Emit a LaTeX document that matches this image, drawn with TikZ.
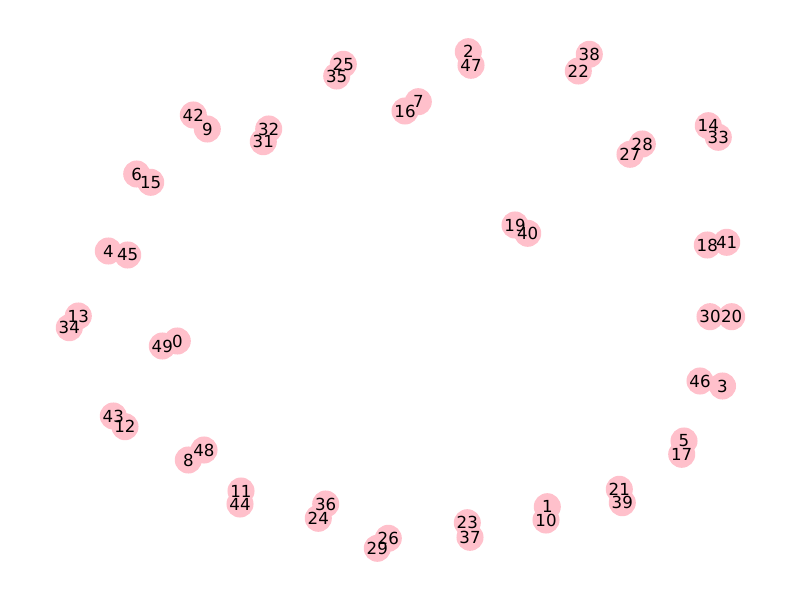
\documentclass[tikz,border=0pt]{standalone}
\usepackage{fontspec}
\setmainfont{DejaVu Sans}
\definecolor{nodepink}{HTML}{FFC0CB}

\begin{document}
\begin{tikzpicture}[x=0.01in, y=-0.01in,
  vertex/.style={circle, fill=nodepink, draw=none, inner sep=0pt, minimum size=19.54pt},
  numlabel/.style={inner sep=0pt, font=\fontsize{12}{14}\selectfont}]
\useasboundingbox (0, 0) rectangle (800, 600);

% circles first, labels on top
\foreach \n/\x/\y in {0/177.3/341, 1/547.3/506.7, 2/468.3/51.7, 3/722.5/386,
    4/108.3/251, 5/684/441, 6/136.7/174, 7/418.3/101.7, 8/188.3/460,
    9/207.3/129, 10/546/520, 11/241/491, 12/125/426.7, 13/78.3/316,
    14/708.3/125.7, 15/150.7/182.3, 16/405/111, 17/681.7/454.3, 18/707.3/245,
    19/515/225, 20/731.7/316.7, 21/619.3/489.3, 22/578.3/71, 23/467.3/522.7,
    24/318.3/518.3, 25/343.3/64.3, 26/388.3/538.3, 27/630/154.3, 28/642.3/144,
    29/377.3/548.3, 30/710/316.7, 31/263.3/141.7, 32/268.7/129, 33/718.3/137.3,
    34/69.3/327.7, 35/336.7/76, 36/325.7/504, 37/470/537.3, 38/589.3/54.3,
    39/622.3/502.7, 40/527.7/233.3, 41/726.7/242.3, 42/193.3/115, 43/113.3/416,
    44/240/504, 45/127.7/255, 46/700/381, 47/471/65.3, 48/204/450, 49/162.3/346}
  \node [vertex] (v\n) at (\x, \y) {};

\foreach \n in {0,...,49}
  \node [numlabel] at (v\n) {\n};
\end{tikzpicture}
\end{document}
